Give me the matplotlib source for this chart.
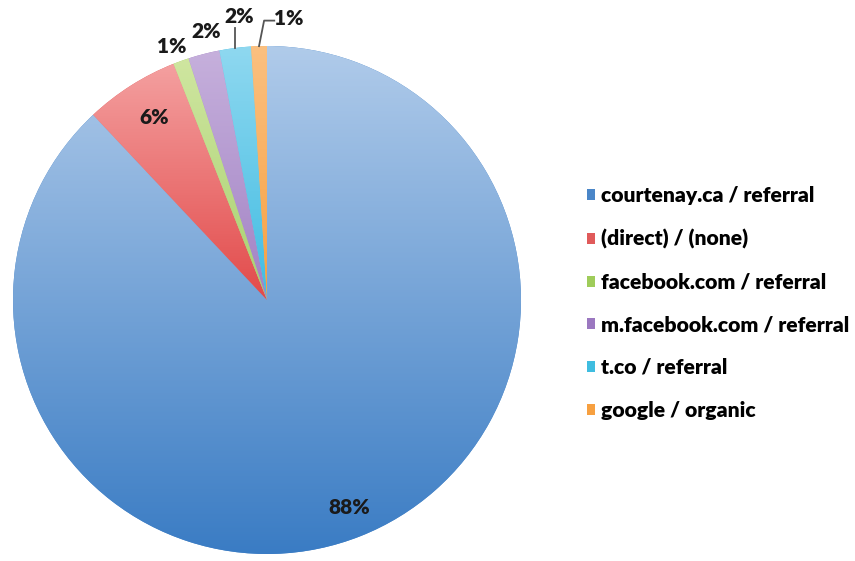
import numpy as np
import matplotlib.pyplot as plt
from matplotlib.colors import LinearSegmentedColormap

# traffic sources
sources = ['courtenay.ca / referral', '(direct) / (none)', 'facebook.com / referral',
           'm.facebook.com / referral', 't.co / referral', 'google / organic']
shares = [88, 6, 1, 2, 2, 1]

# legend colours plus light (top) / dark (bottom) gradient ends
base_colors = ['#4a86c8', '#e05a5a', '#9fcc5a', '#9b78c0', '#3fbde0', '#f7a040']
top_colors = ['#b0cbea', '#f4a0a0', '#cfe6a0', '#c6b0dc', '#8fd8f0', '#fbc080']
bottom_colors = ['#3a7cc4', '#e24a4a', '#a8d070', '#a282c4', '#40bce2', '#f7a040']

plt.rcParams['font.family'] = ['Lato', 'DejaVu Sans']
plt.rcParams['font.weight'] = 'heavy'

fig = plt.figure(figsize=(8.55, 5.61), dpi=100)
cx, cy, r = 267, 300, 254
ax = fig.add_axes([(cx - r) / 855, (561 - cy - r) / 561, 2 * r / 855, 2 * r / 561])
ax.set_xlim(-1, 1)
ax.set_ylim(-1, 1)
ax.axis('off')

wedges, _ = ax.pie(shares, colors=base_colors, startangle=90, counterclock=False,
                   radius=1, wedgeprops=dict(linewidth=0))

# vertical gradient fill on every slice, spanning the slice's own bounding box
grad = np.linspace(0, 1, 256).reshape(-1, 1)
for w, c0, c1 in zip(wedges, top_colors, bottom_colors):
    bb = w.get_path().get_extents()
    cmap = LinearSegmentedColormap.from_list('g', [c0, c1])
    im = ax.imshow(grad, cmap=cmap, extent=(bb.x0, bb.x1, bb.y0, bb.y1),
                   aspect='auto', zorder=w.get_zorder() + 0.1)
    im.set_clip_path(w)
ax.set_xlim(-1, 1)
ax.set_ylim(-1, 1)

# percentage labels
label_r = [0.88, 0.85, 1.08, 1.09, 1.12, 1.1]
label_shift = [(0, 0), (0.01, 0.0), (-0.01, -0.02), (0.03, 0.0), (0.03, 0.005), (0.12, 0.01)]
cum = np.cumsum([0] + shares)
total = float(sum(shares))
for i, s in enumerate(shares):
    mid = 90 - 360 * (cum[i] + s / 2) / total
    a = np.deg2rad(mid)
    x = label_r[i] * np.cos(a) + label_shift[i][0]
    y = label_r[i] * np.sin(a) + label_shift[i][1]
    ax.text(x, y, f'{s}%', ha='center', va='center', fontsize=15,
            fontweight='heavy', color='#1a1a1a', clip_on=False)

# leader lines for the two narrow slices near the top
for i in (4, 5):
    mid = 90 - 360 * (cum[i] + shares[i] / 2) / total
    a = np.deg2rad(mid)
    ex, ey = np.cos(a), np.sin(a)
    if i == 4:
        ax.plot([ex, ex], [ey, 1.07], color='#555555', lw=1.3, clip_on=False)
    else:
        ax.plot([ex, ex + 0.02, ex + 0.06], [ey, 1.1, 1.1],
                color='#555555', lw=1.3, clip_on=False)

fig.legend(wedges, sources, loc='center left', bbox_to_anchor=(576 / 855, 1 - 303 / 561),
           frameon=False, fontsize=15.2, handlelength=0.42, handleheight=0.42,
           handletextpad=0.25, labelspacing=1.12, borderpad=0)

fig.savefig('out.png', dpi=100, facecolor='white')
